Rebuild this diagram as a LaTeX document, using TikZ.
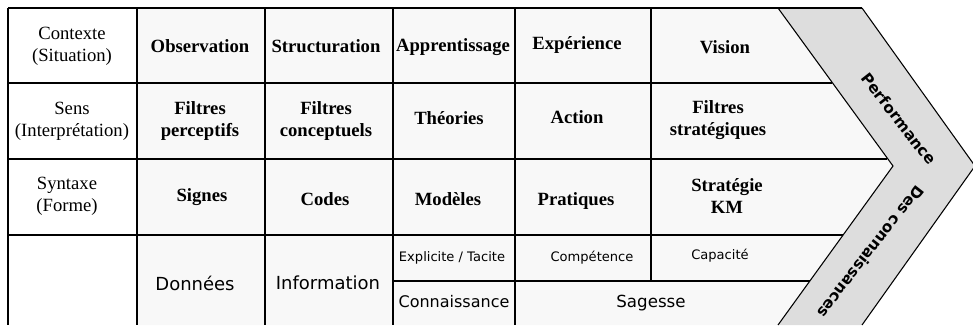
\documentclass[tikz,border=0pt]{standalone}
\usepackage{fontspec}
\setmainfont{Liberation Serif}
\newfontfamily\comicfont{DejaVu Sans}
\definecolor{cellgray}{HTML}{F8F8F8}
\definecolor{bandgray}{HTML}{DDDDDD}

\begin{document}
\begin{tikzpicture}[x=0.75pt, y=-0.75pt, line width=0.8pt,
    rowhead/.style={align=center, font=\fontsize{14}{16.5}\selectfont},
    cell/.style={align=center, font=\fontsize{14}{16.5}\selectfont\bfseries},
    bigcomic/.style={font=\comicfont\fontsize{13.5}{16}\selectfont},
    smallcomic/.style={font=\comicfont\fontsize{9.8}{12}\selectfont},
    bandtext/.style={inner sep=0pt, font=\comicfont\bfseries\fontsize{11.5}{13}\selectfont}]
    \useasboundingbox (0,0) rectangle (973,325);

    % Cell background and chevron band
    \fill[cellgray] (137,8) -- (778,8) -- (893,166) -- (778,325) -- (137,325) -- cycle;
    \fill[bandgray] (778,8) -- (862,8) -- (975,166) -- (862,325) -- (778,325) -- (893,166) -- cycle;
    \draw (778,8) -- (893,166) -- (778,325);
    \draw (862,8) -- (975,166) -- (862,325);

    % Table lines
    \draw (8,8) -- (862,8);
    \draw (8,83) -- (832,83);
    \draw (8,159) -- (887,159);
    \draw (8,235) -- (843,235);
    \draw (393,281) -- (810,281);
    \draw (8,8) -- (8,325);
    \draw (137,8) -- (137,325);
    \draw (265,8) -- (265,325);
    \draw (393,8) -- (393,325);
    \draw (515,8) -- (515,325);
    \draw (651,8) -- (651,281);

    % Row headers
    \node[rowhead] (ctx) at (72,46) {Contexte\\(Situation)};
    \node[rowhead] (sens) at (72,121) {Sens\\(Interprétation)};
    \node[rowhead] (synt) at (67,196) {Syntaxe\\(Forme)};

    % Contexte
    \node[cell] (obs) at (200,46) {Observation};
    \node[cell] (struc) at (326,46) {Structuration};
    \node[cell] (appr) at (453,47) {Apprentissage};
    \node[cell] (exper) at (577,45) {Expérience};
    \node[cell] (vis) at (725,47) {Vision};

    % Sens
    \node[cell] (fperc) at (200,121) {Filtres\\perceptifs};
    \node[cell] (fconc) at (326,121) {Filtres\\conceptuels};
    \node[cell] (theo) at (449,118) {Théories};
    \node[cell] (act) at (577,117) {Action};
    \node[cell] (fstrat) at (718,120) {Filtres\\stratégiques};

    % Syntaxe
    \node[cell] (sig) at (202,197) {Signes};
    \node[cell] (cod) at (325,199) {Codes};
    \node[cell] (mod) at (448,199) {Modèles};
    \node[cell] (prat) at (576,201) {Pratiques};
    \node[cell] (strkm) at (727,196) {Stratégie\\KM};

    % Bottom row
    \node[bigcomic] (don) at (195,283) {Données};
    \node[bigcomic] (info) at (328,283) {Information};
    \node[smallcomic] (expl) at (452,258) {Explicite / Tacite};
    \node[smallcomic] (comp) at (592,258) {Compétence};
    \node[smallcomic] (capa) at (720,256) {Capacité};
    \node[bigcomic, font=\comicfont\fontsize{12}{14}\selectfont] (conn) at (454,302) {Connaissance};
    \node[bigcomic, font=\comicfont\fontsize{12.5}{14}\selectfont] (sag) at (651,303) {Sagesse};

    % Band labels
    \node[bandtext, rotate=-52] (perf) at (899,119) {Performance};
    \node[bandtext, rotate=-128] (descon) at (871,252) {Des connaissances};
\end{tikzpicture}
\end{document}
